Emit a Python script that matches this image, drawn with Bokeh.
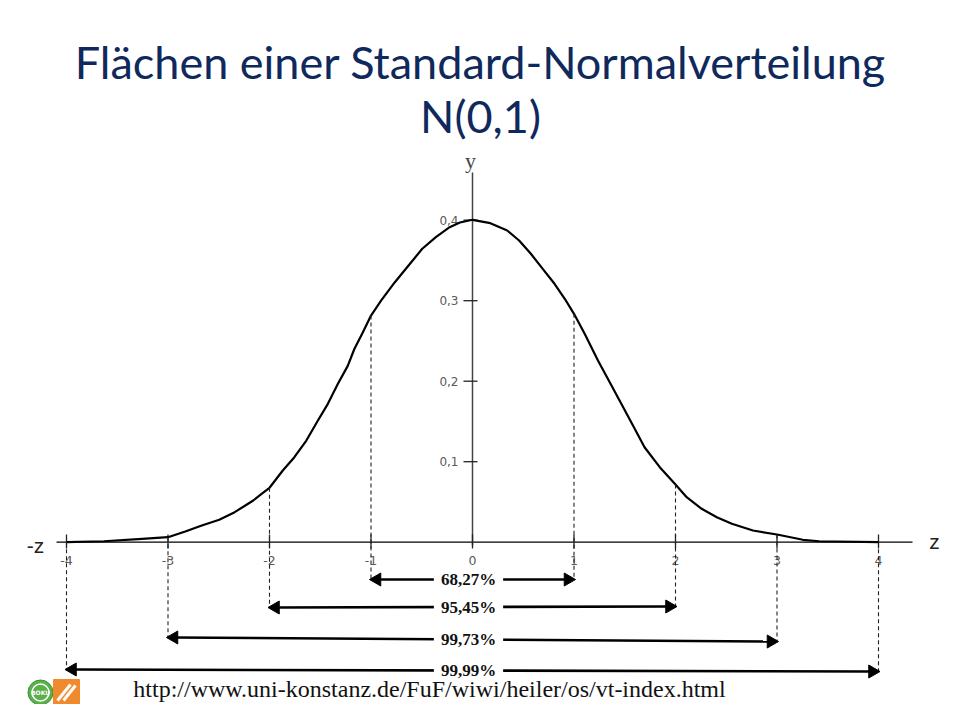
import math
from bokeh.plotting import figure
from bokeh.models import Range1d
from bokeh.core.properties import value
from bokeh.embed import file_html
from bokeh.resources import INLINE

# ---------------- data ----------------
title_lines = ["Flächen einer Standard-Normalverteilung", "N(0,1)"]

curve_z = [-4.0, -3.631, -3.255, -3.0, -2.830, -2.667, -2.495, -2.343, -2.160, -2.078,
           -2.0, -1.869, -1.755, -1.637, -1.523, -1.425, -1.326, -1.229, -1.164, -1.081,
           -1.0, -0.899, -0.765, -0.630, -0.495, -0.361, -0.225, -0.124, 0.0,
           0.176, 0.342, 0.459, 0.575, 0.692, 0.808, 0.909, 1.0, 1.105, 1.236,
           1.352, 1.466, 1.581, 1.695, 1.845, 2.0, 2.110, 2.258, 2.407, 2.555,
           2.763, 3.0, 3.255, 3.415, 3.573, 4.0]
curve_y = [0.0, 0.0012, 0.0042, 0.0062, 0.0133, 0.0207, 0.0278, 0.0373, 0.0518, 0.0601,
           0.0676, 0.0891, 0.1056, 0.1263, 0.1512, 0.1719, 0.1968, 0.2190, 0.2400, 0.2605,
           0.2816, 0.3003, 0.3230, 0.3437, 0.3645, 0.3789, 0.3913, 0.3971, 0.4005,
           0.3963, 0.3872, 0.3748, 0.3583, 0.3396, 0.3210, 0.3024, 0.2837, 0.2589, 0.2257,
           0.1988, 0.1719, 0.1450, 0.1180, 0.0932, 0.0717, 0.0559, 0.0415, 0.0311, 0.0229,
           0.0145, 0.0096, 0.0030, 0.0012, 0.0009, 0.0]

z_ticks = [-4, -3, -2, -1, 0, 1, 2, 3, 4]
z_tick_labels = ["-4", "-3", "-2", "-1", "0", "1", "2", "3", "4"]
y_ticks = [0.1, 0.2, 0.3, 0.4]
y_tick_labels = ["0,1", "0,2", "0,3", "0,4"]

sigma_k = [1, 2, 3, 4]
area_labels = ["68,27%", "95,45%", "99,73%", "99,99%"]

source_url = "http://www.uni-konstanz.de/FuF/wiwi/heiler/os/vt-index.html"

# ---------------- layout ----------------
W, H = 944, 704
X0, XPX = 472, 101.5       # picture px of z=0, px per unit z
Y0, YPX = 541.7, 805.0     # picture px of y=0, px per unit y
xs = -X0 / XPX
xe = xs + W / XPX
ye = Y0 / YPX
ys = ye - H / YPX

def zx(px):
    return (px - X0) / XPX

def yy(py):
    return (Y0 - py) / YPX

p = figure(width=W, height=H, output_backend="svg", toolbar_location=None,
           x_range=Range1d(xs, xe), y_range=Range1d(ys, ye),
           x_axis_type=None, y_axis_type=None, min_border=0,
           outline_line_color=None, background_fill_color="white",
           border_fill_color="white")
p.xgrid.visible = False
p.ygrid.visible = False

NAVY = "#10295C"
GREY = "#5a5a5a"

# title
p.text(x=[zx(480), zx(480)], y=[yy(61), yy(115)], text=title_lines,
       text_align="center", text_baseline="middle",
       text_font=value("Lato"), text_font_size="45px", text_color=NAVY)

# axes
p.segment(x0=[zx(56)], y0=[0], x1=[zx(912)], y1=[0], line_color="black", line_width=1.3)
p.segment(x0=[0], y0=[yy(545)], x1=[0], y1=[yy(172)], line_color="#444444", line_width=1.5)

# y ticks
p.segment(x0=[zx(463)] * len(y_ticks), y0=y_ticks, x1=[zx(477)] * len(y_ticks), y1=y_ticks,
          line_color="#222222", line_width=1.3)
p.text(x=[zx(458)] * len(y_ticks), y=y_ticks, text=y_tick_labels,
       text_align="right", text_baseline="middle",
       text_font=value("DejaVu Sans"), text_font_size="12px", text_color=GREY)
p.text(x=[zx(470)], y=[yy(160)], text=["y"], text_align="center", text_baseline="middle",
       text_font=value("Liberation Serif"), text_font_size="22px", text_color="#444444")

# z ticks
p.segment(x0=z_ticks, y0=[yy(534)] * len(z_ticks), x1=z_ticks, y1=[yy(548)] * len(z_ticks),
          line_color="#222222", line_width=1.3)
p.text(x=z_ticks, y=[yy(560)] * len(z_ticks), text=z_tick_labels,
       text_align="center", text_baseline="middle",
       text_font=value("DejaVu Sans"), text_font_size="12.5px", text_color=GREY)
p.text(x=[zx(35), zx(934)], y=[yy(545), yy(541)], text=["-z", "z"],
       text_align="center", text_baseline="middle",
       text_font=value("Liberation Sans"), text_font_size="21px", text_color="#222222")

# curve
p.line(curve_z, curve_y, line_color="black", line_width=2.2, line_join="round")

# dashed guides
curve_at = dict(zip(curve_z, curve_y))
lv_left = [yy(579), yy(607), yy(637), yy(669)]
lv_right = [yy(579), yy(606), yy(641), yy(671)]

dx0, dy0, dx1, dy1 = [], [], [], []
for k, l, r in zip(sigma_k, lv_left, lv_right):
    dx0 += [-k, k]
    dy0 += [curve_at[float(-k)], curve_at[float(k)]]
    dx1 += [-k, k]
    dy1 += [l, r]
p.segment(x0=dx0, y0=dy0, x1=dx1, y1=dy1, line_color="#222222", line_width=1.1, line_dash="4 3")

# double-headed arrows (shaft + heads)
head = 6.0 / XPX
p.segment(x0=[-k + head for k in sigma_k], y0=lv_left,
          x1=[k - head for k in sigma_k], y1=lv_right,
          line_color="black", line_width=2.6)
p.scatter(x=[-k + head for k in sigma_k], y=lv_left, marker="triangle", size=13,
          angle=math.pi / 2, fill_color="black", line_color="black")
p.scatter(x=[k - head for k in sigma_k], y=lv_right, marker="triangle", size=13,
          angle=-math.pi / 2, fill_color="black", line_color="black")

p.text(x=[zx(468)] * len(sigma_k), y=[(l + r) / 2 for l, r in zip(lv_left, lv_right)],
       text=area_labels, text_align="center", text_baseline="middle",
       text_font=value("Liberation Serif"), text_font_size="17px", text_font_style="bold",
       text_color="#111111", background_fill_color="white",
       padding=dict(left=7, right=7, top=0, bottom=0))

# logos (decorative)
p.scatter(x=[zx(40)], y=[yy(692)], marker="circle", size=25, fill_color="#5BB04A",
          line_color="#3E8F35", line_width=1)
p.scatter(x=[zx(40)], y=[yy(692)], marker="circle", size=17, fill_color=None,
          line_color="white", line_width=1.5)
p.text(x=[zx(40)], y=[yy(692)], text=["BOKU"], text_align="center", text_baseline="middle",
       text_font=value("DejaVu Sans"), text_font_size="6px", text_color="white",
       text_font_style="bold")
p.scatter(x=[zx(66)], y=[yy(692)], marker="square", size=26, fill_color="#F08A2C",
          line_color="#F08A2C")
p.segment(x0=[zx(57), zx(63)], y0=[yy(700), yy(700)], x1=[zx(70), zx(75)], y1=[yy(684), yy(685)],
          line_color="white", line_width=3)

# source URL
p.text(x=[zx(429)], y=[yy(688)], text=[source_url],
       text_align="center", text_baseline="middle",
       text_font=value("Liberation Serif"), text_font_size="24px", text_color="#111111")

open("out.html", "w").write(file_html(p, INLINE))
